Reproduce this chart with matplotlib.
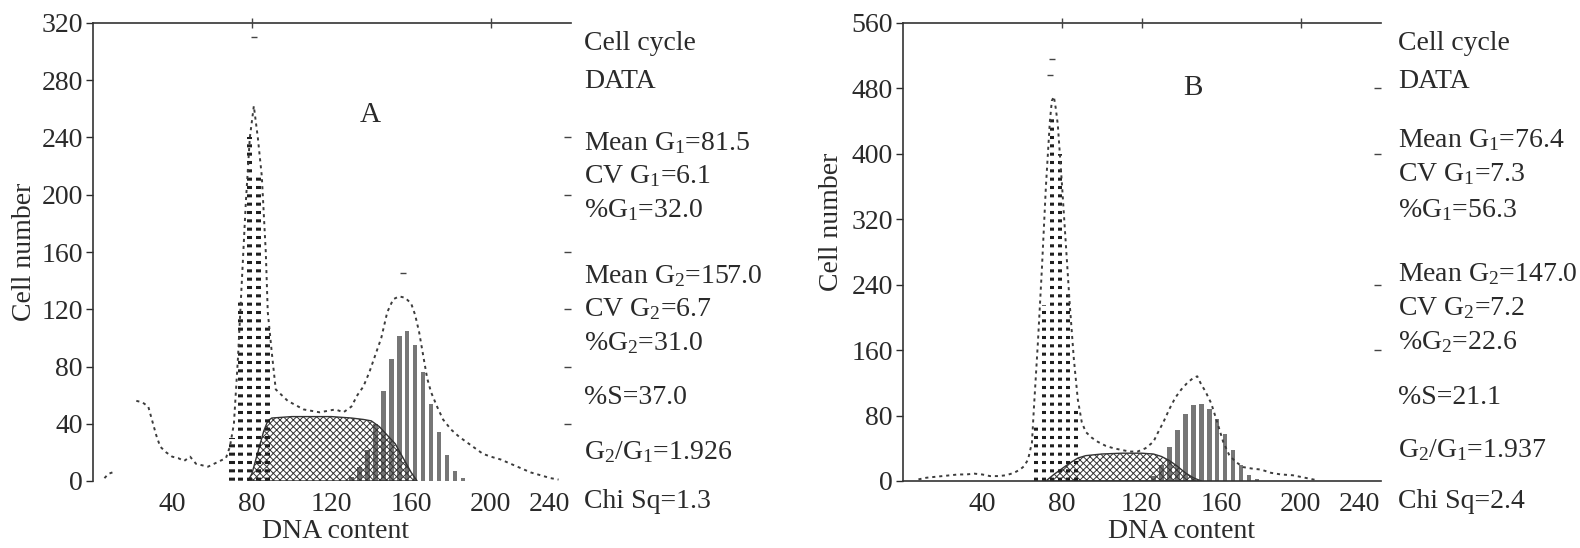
import numpy as np
import matplotlib
matplotlib.use("Agg")
import matplotlib.pyplot as plt

# ---------------- data ----------------
# Panel A : raw histogram (DNA content vs cell number)
a_raw_x = [6, 8, 10, 12, 22, 25, 28, 30, 32, 34, 37, 40, 43, 46, 49, 52, 55, 58, 61, 64,
           67, 69, 71, 73, 75, 77, 79, 81, 83, 85, 87, 88, 90, 92, 95, 98, 102, 106, 110, 114,
           118, 122, 126, 130, 133, 136, 139, 142, 145, 148, 151, 154, 157, 160, 162, 164, 166, 168, 170, 173,
           176, 180, 184, 188, 192, 196, 200, 205, 210, 215, 220, 225, 230, 234]
a_raw_y = [2, 5, 6, np.nan, 56, 55, 52, 42, 32, 24, 20, 17, 16, 14, 17, 12, 11, 10, 12, 14,
           16, 24, 40, 85, 140, 195, 240, 262, 240, 213, 160, 118, 90, 64, 60, 56, 53, 50, 49, 48,
           49, 50, 48, 52, 60, 66, 76, 88, 100, 118, 127, 129, 128, 124, 116, 104, 88, 72, 62, 52,
           43, 36, 31, 27, 23, 19, 17, 15, 12, 9, 6, 4, 2, 1]
a_spike_x = [81, 156]
a_spike_y = [310, 145]
a_g1_x = [70, 74.5, 79, 83.5, 88]
a_g1_y = [30, 125, 240, 215, 110]
a_s_x = [78, 80, 82, 84, 86, 88, 90, 100, 110, 120, 130, 136, 140, 144, 148, 152, 156, 160, 163]
a_s_y = [0, 5, 15, 25, 35, 42, 44, 45, 45, 45, 44, 43, 42, 38, 32, 26, 16, 6, 0]
a_g2_x = [130, 134, 138, 142, 146, 150, 154, 158, 162, 166, 170, 174, 178, 182, 186]
a_g2_y = [3, 10, 22, 40, 63, 85, 101, 105, 95, 76, 54, 34, 18, 7, 2]
a_stats = ["Cell cycle", "DATA", "Mean G$_1$=81.5", "CV G$_1$=6.1", "%G$_1$=32.0",
           "Mean G$_2$=157.0", "CV G$_2$=6.7", "%G$_2$=31.0", "%S=37.0",
           "G$_2$/G$_1$=1.926", "Chi Sq=1.3"]

# Panel B
b_raw_x = [8, 12, 16, 20, 24, 28, 32, 36, 40, 44, 48, 52, 56, 59, 61, 63, 65, 66, 68, 70,
           72, 74, 75, 76, 77, 78, 79, 80, 82, 84, 86, 88, 90, 92, 95, 98, 102, 106, 110, 114,
           118, 122, 126, 128, 131, 134, 137, 140, 143, 146, 148, 150, 152, 155, 158, 161, 164, 167, 171, 176,
           180, 185, 190, 196, 200, 204, 208]
b_raw_y = [2, 4, 5, 6, 7, 8, 8, 9, 8, 6, 6, 7, 10, 14, 18, 26, 47, 90, 170, 260,
           360, 440, 465, 470, 455, 435, 400, 365, 290, 215, 150, 100, 72, 60, 53, 48, 43, 40, 38, 36,
           36, 40, 48, 58, 72, 88, 102, 112, 120, 126, 128, 118, 110, 95, 72, 48, 32, 24, 17, 15,
           14, 10, 8, 7, 5, 3, 1]
b_spike_x = [75, 74]
b_spike_y = [516, 497]
b_g1_x = [67, 71, 75, 79, 83, 87]
b_g1_y = [70, 215, 445, 400, 230, 90]
b_s_x = [72, 76, 80, 84, 88, 92, 100, 110, 120, 126, 130, 134, 138, 142, 146, 150]
b_s_y = [0, 8, 15, 22, 28, 31, 33, 34, 34, 33, 30, 25, 18, 10, 4, 0]
b_g2_x = [126, 130, 134, 138, 142, 146, 150, 154, 158, 162, 166, 170, 174, 178]
b_g2_y = [6, 20, 42, 62, 82, 93, 94, 88, 76, 58, 38, 20, 7, 2]
b_stats = ["Cell cycle", "DATA", "Mean G$_1$=76.4", "CV G$_1$=7.3", "%G$_1$=56.3",
           "Mean G$_2$=147.0", "CV G$_2$=7.2", "%G$_2$=22.6", "%S=21.1",
           "G$_2$/G$_1$=1.937", "Chi Sq=2.4"]

x_ticks = [40, 80, 120, 160, 200, 240]
a_y_ticks = [0, 40, 80, 120, 160, 200, 240, 280, 320]
b_y_ticks = [0, 80, 160, 240, 320, 400, 480, 560]

# ---------------- style ----------------
plt.rcParams['font.family'] = ['Liberation Serif', 'DejaVu Serif']
plt.rcParams['mathtext.default'] = 'regular'
plt.rcParams['hatch.linewidth'] = 0.7

W, H = 1580, 548
fig = plt.figure(figsize=(W / 100, H / 100), dpi=100)
INK = '#2a2a2a'
FS = 20


def fx(px):
    return px / W


def fy(py):
    return 1 - py / H


def set_hlw(artists, w):
    for a in artists:
        if hasattr(a, 'set_hatch_linewidth'):
            a.set_hatch_linewidth(w)


def panel(left_px, ymax, yticks, rticks, topticks, raw_x, raw_y, sp_x, sp_y,
          g1_x, g1_y, g1_w, s_x, s_y, g2_x, g2_y, letter, letter_xy, stats, stats_x,
          stats_y, ylab_xy, xlab_xy, bottom_spine):
    ax = fig.add_axes([fx(left_px), fy(481), 478 / W, (481 - 23) / H])
    ax.set_xlim(0, 240)
    ax.set_ylim(0, ymax)

    # G2 peak: vertical grey stripes
    ax.bar(g2_x, g2_y, width=2.3, color='#767676', linewidth=0, zorder=2)
    # S phase: fine cross hatch
    with plt.rc_context({'hatch.linewidth': 0.7}):
        fb = ax.fill_between(s_x, 0, s_y, facecolor='none', edgecolor='#333333',
                             hatch='xxxxx', linewidth=1.0, zorder=3)
    set_hlw([fb], 0.7)
    # G1 peak: dashed grid
    with plt.rc_context({'hatch.linewidth': 2.2}):
        bars = ax.bar(g1_x, g1_y, width=g1_w, color='none', edgecolor='#1e1e1e',
                      linewidth=0, hatch='--', zorder=4)
    set_hlw(bars.patches, 2.2)
    # raw data trace (dotted)
    ax.plot(raw_x, raw_y, color='#3c3c3c', lw=1.4, linestyle=(0, (1.6, 2.0)), zorder=5)
    ax.plot(sp_x, sp_y, linestyle='none', marker='_', markersize=5, color='#444', zorder=5)

    # spines
    ax.spines['right'].set_visible(False)
    ax.spines['bottom'].set_visible(bottom_spine)
    for s in ['left', 'top', 'bottom']:
        ax.spines[s].set_color('#333')
        ax.spines[s].set_linewidth(1.2)

    ax.set_yticks(yticks)
    ax.set_yticklabels([str(v) for v in yticks])
    ax.set_xticks(x_ticks)
    ax.set_xticklabels([str(v) for v in x_ticks])
    ax.tick_params(axis='y', direction='out', length=5, width=1, pad=2,
                   labelsize=FS, colors=INK)
    ax.tick_params(axis='x', length=0, pad=8, labelsize=FS, colors=INK)
    ax.get_xticklabels()[-1].set_ha('right')

    # right-side short ticks
    ax2 = ax.twinx()
    ax2.set_ylim(0, ymax)
    ax2.set_yticks(rticks)
    ax2.tick_params(axis='y', direction='in', length=5, width=1, labelright=False,
                    colors='#444')
    for s in ax2.spines.values():
        s.set_visible(False)
    # small ticks on the top line
    ax3 = ax.twiny()
    ax3.set_xlim(0, 240)
    ax3.set_xticks(topticks)
    ax3.tick_params(axis='x', direction='inout', length=7, width=1, labeltop=False,
                    colors='#444')
    for s in ax3.spines.values():
        s.set_visible(False)

    ax.text(letter_xy[0], letter_xy[1], letter, fontsize=21, color=INK,
            ha='center', va='center', zorder=6)

    for s, y in zip(stats, stats_y):
        fig.text(fx(stats_x), fy(y), s, fontsize=FS, color=INK, ha='left', va='center')

    fig.text(fx(ylab_xy[0]), fy(ylab_xy[1]), 'Cell number', rotation=90,
             fontsize=FS, color=INK, ha='center', va='center')
    fig.text(fx(xlab_xy[0]), fy(xlab_xy[1]), 'DNA content',
             fontsize=FS, color=INK, ha='center', va='center')
    return ax


panel(92.5, 320, a_y_ticks, [40, 80, 120, 160, 200, 240], [80, 200],
      a_raw_x, a_raw_y, a_spike_x, a_spike_y, a_g1_x, a_g1_y, 2.6,
      a_s_x, a_s_y, a_g2_x, a_g2_y, 'A', (139.5, 256), a_stats, 584,
      [43, 81, 143, 176, 210, 276, 309, 343, 398, 452, 501],
      (25, 252), (336, 532), False)

panel(902.5, 560, b_y_ticks, [160, 240, 400, 480], [80, 120, 200],
      b_raw_x, b_raw_y, b_spike_x, b_spike_y, b_g1_x, b_g1_y, 1.8,
      b_s_x, b_s_y, b_g2_x, b_g2_y, 'B', (146, 481), b_stats, 1398,
      [43, 81, 140, 174, 210, 274, 308, 342, 397, 450, 501],
      (832, 222), (1182, 532), True)

fig.savefig('out.png', dpi=100, facecolor='white')
